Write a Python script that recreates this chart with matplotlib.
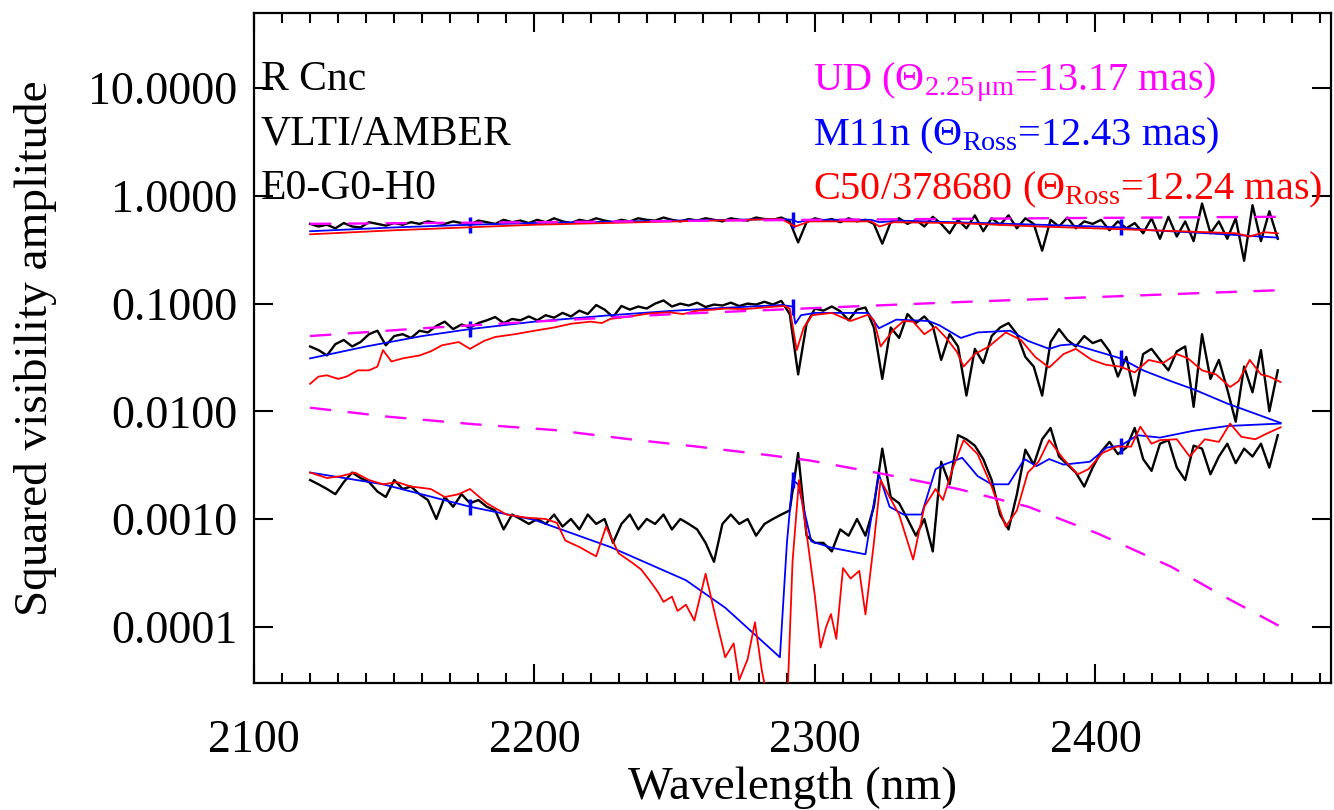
import numpy as np
import matplotlib
matplotlib.use("Agg")
import matplotlib.pyplot as plt
from matplotlib.ticker import MultipleLocator, FixedLocator, FuncFormatter, NullLocator

plt.rcParams["font.family"] = ["Liberation Serif", "DejaVu Serif"]
plt.rcParams["mathtext.fontset"] = "custom"
plt.rcParams["mathtext.rm"] = "Liberation Serif"
plt.rcParams["mathtext.it"] = "Liberation Serif:italic"

# ---------------- observed squared visibilities (3 nm grid) ----------------
obs_wl = np.arange(2120, 2466, 3)

obs_v2_short = [
    0.55, 0.52, 0.54, 0.50, 0.56, 0.52, 0.51, 0.57, 0.55, 0.53,
    0.56, 0.54, 0.57, 0.55, 0.58, 0.56, 0.55, 0.58, 0.56, 0.54,
    0.59, 0.57, 0.55, 0.60, 0.57, 0.59, 0.56, 0.60, 0.57, 0.62,
    0.58, 0.56, 0.60, 0.58, 0.62, 0.59, 0.57, 0.60, 0.58, 0.62,
    0.60, 0.59, 0.63, 0.60, 0.58, 0.61, 0.59, 0.62, 0.60, 0.58,
    0.62, 0.60, 0.59, 0.63, 0.61, 0.60, 0.63, 0.58, 0.37, 0.57,
    0.62, 0.59, 0.61, 0.57, 0.62, 0.58, 0.60, 0.55, 0.36, 0.57,
    0.62, 0.55, 0.60, 0.52, 0.64, 0.55, 0.45, 0.60, 0.50, 0.66,
    0.47, 0.62, 0.54, 0.66, 0.50, 0.62, 0.55, 0.31, 0.60, 0.52,
    0.63, 0.50, 0.58, 0.55, 0.60, 0.48, 0.58, 0.50, 0.56, 0.45,
    0.62, 0.40, 0.64, 0.42, 0.58, 0.38, 0.85, 0.45, 0.58, 0.40,
    0.62, 0.25, 0.82, 0.38, 0.72, 0.40,
]

obs_v2_mid = [
    0.040, 0.037, 0.033, 0.042, 0.046, 0.040, 0.044, 0.052, 0.056, 0.041,
    0.050, 0.052, 0.048, 0.056, 0.054, 0.062, 0.068, 0.058, 0.064, 0.060,
    0.066, 0.070, 0.075, 0.066, 0.072, 0.070, 0.076, 0.070, 0.078, 0.074,
    0.082, 0.076, 0.086, 0.080, 0.097, 0.088, 0.075, 0.095, 0.088, 0.094,
    0.090, 0.100, 0.107, 0.094, 0.100, 0.096, 0.102, 0.093, 0.098, 0.096,
    0.102, 0.095, 0.100, 0.098, 0.104, 0.098, 0.106, 0.080, 0.022, 0.065,
    0.090, 0.086, 0.094, 0.085, 0.070, 0.088, 0.092, 0.060, 0.020, 0.060,
    0.048, 0.080, 0.066, 0.076, 0.062, 0.030, 0.052, 0.040, 0.014, 0.038,
    0.028, 0.050, 0.060, 0.066, 0.052, 0.032, 0.026, 0.014, 0.044, 0.058,
    0.046, 0.040, 0.050, 0.043, 0.046, 0.036, 0.021, 0.032, 0.014, 0.034,
    0.038, 0.030, 0.024, 0.036, 0.040, 0.011, 0.052, 0.020, 0.030, 0.016,
    0.008, 0.026, 0.015, 0.037, 0.010, 0.024,
]

obs_v2_long = [
    0.0023, 0.0021, 0.0019, 0.0017, 0.0022, 0.0027, 0.0024, 0.0022, 0.0018, 0.0016,
    0.0023, 0.0019, 0.0020, 0.0017, 0.0015, 0.0010, 0.0016, 0.0013, 0.0017, 0.0014,
    0.0015, 0.0013, 0.0012, 0.0008, 0.0011, 0.0010, 0.0009, 0.0010, 0.0009, 0.0011,
    0.00085, 0.0010, 0.0008, 0.0011, 0.0009, 0.0010, 0.0006, 0.0009, 0.0011, 0.0008,
    0.0010, 0.0009, 0.0011, 0.0008, 0.0010, 0.0009, 0.0008, 0.0006, 0.0004, 0.0009,
    0.0011, 0.0009, 0.0010, 0.0007, 0.0009, 0.0010, 0.0011, 0.0012, 0.0041, 0.0007,
    0.0006, 0.0006, 0.0005, 0.0008, 0.0007, 0.0010, 0.0007, 0.0013, 0.0045, 0.0016,
    0.0014, 0.0010, 0.0007, 0.0010, 0.0005, 0.0034, 0.0021, 0.0060, 0.0055, 0.0048,
    0.0036, 0.0023, 0.0011, 0.0008, 0.0017, 0.0044, 0.0032, 0.0055, 0.0070, 0.0038,
    0.0032, 0.0027, 0.0020, 0.0030, 0.0042, 0.0052, 0.0040, 0.0046, 0.0070, 0.0036,
    0.0028, 0.0050, 0.0054, 0.0030, 0.0023, 0.0048, 0.0045, 0.0026, 0.0038, 0.0050,
    0.0033, 0.0045, 0.0038, 0.0050, 0.0030, 0.0060,
]

# ---------------- uniform disk model ----------------
ud_wl_short = [2120, 2200, 2300, 2400, 2465]
ud_v2_short = [0.55, 0.57, 0.60, 0.625, 0.64]

ud_wl_mid = [2120, 2160, 2200, 2250, 2300, 2350, 2400, 2440, 2465]
ud_v2_mid = [0.050, 0.059, 0.068, 0.080, 0.091, 0.103, 0.115, 0.126, 0.133]

ud_wl_long = [2120, 2148, 2178, 2207, 2234, 2258, 2284, 2298, 2325, 2351,
              2376, 2401, 2427, 2446, 2466]
ud_v2_long = [0.0108, 0.0089, 0.0076, 0.0067, 0.0055, 0.0047, 0.0039, 0.0035,
              0.0026, 0.0019, 0.0013, 0.00073, 0.00036, 0.00019, 0.0001]

# ---------------- M11n model ----------------
m11_wl_short = [2120, 2150, 2177, 2200, 2250, 2288, 2292, 2294, 2298, 2320,
                2323, 2330, 2350, 2380, 2400, 2409, 2420, 2440, 2465]
m11_v2_short = [0.47, 0.51, 0.54, 0.56, 0.59, 0.61, 0.60, 0.57, 0.60, 0.60,
                0.57, 0.59, 0.57, 0.54, 0.52, 0.51, 0.48, 0.45, 0.41]

m11_wl_mid = [2120, 2140, 2160, 2177, 2200, 2227, 2250, 2270, 2288, 2292,
              2293, 2295, 2300, 2319, 2322.8, 2329, 2340.5, 2344.3, 2352, 2358,
              2369.6, 2376, 2383.5, 2387.5, 2392, 2399, 2409, 2417, 2427, 2435,
              2447, 2457, 2466]
m11_v2_mid = [0.031, 0.040, 0.050, 0.058, 0.068, 0.078, 0.086, 0.092, 0.097, 0.094,
              0.065, 0.078, 0.082, 0.082, 0.059, 0.071, 0.069, 0.063, 0.048, 0.054,
              0.056, 0.045, 0.038, 0.041, 0.042, 0.037, 0.031, 0.024, 0.019, 0.016,
              0.0118, 0.0095, 0.0078]

m11_wl_long = [2120, 2146, 2177, 2200, 2227, 2254, 2268, 2281, 2287.5, 2290,
               2292, 2294, 2298.7, 2306, 2318, 2320, 2322.8, 2326.6, 2331.6, 2338,
               2343, 2346, 2352.5, 2358, 2363, 2369, 2374.7, 2379, 2383.5, 2388.6,
               2398, 2404, 2409, 2415, 2423, 2435, 2447, 2466]
m11_v2_long = [0.0027, 0.0021, 0.0013, 0.00098, 0.00055, 0.00027, 0.00015, 0.000074, 0.000052, 0.0006,
               0.0023, 0.0021, 0.00062, 0.00054, 0.00047, 0.0010, 0.0026, 0.0013, 0.0011, 0.0011,
               0.0029, 0.0032, 0.0037, 0.0025, 0.0021, 0.0021, 0.0036, 0.0031, 0.0036, 0.0032,
               0.0034, 0.0046, 0.0048, 0.0060, 0.0057, 0.0066, 0.0073, 0.0077]

# wavelengths where the M11n curves carry a short vertical tick
m11_tick_wl = [2177, 2292, 2409]

# ---------------- C50/378680 model ----------------
c50_wl_short = [2120, 2150, 2200, 2250, 2288, 2293, 2298, 2320, 2323, 2328,
                2350, 2380, 2400, 2430, 2450, 2455, 2460, 2465]
c50_v2_short = [0.44, 0.48, 0.54, 0.58, 0.61, 0.52, 0.58, 0.58, 0.52, 0.57,
                0.56, 0.52, 0.50, 0.47, 0.45, 0.42, 0.46, 0.45]

c50_wl_mid = [2120, 2123, 2126, 2130, 2133, 2137, 2141, 2144, 2146, 2149,
              2153, 2159, 2163, 2167, 2173, 2177, 2182, 2186, 2193, 2200,
              2207, 2213, 2220, 2224, 2227, 2234, 2241, 2248, 2253, 2258,
              2264, 2268, 2275, 2284, 2289, 2291, 2293.5, 2296, 2299, 2306,
              2312.7, 2319, 2321, 2323.4, 2328, 2331.6, 2335, 2339, 2343, 2346.8,
              2350.6, 2353, 2357, 2362, 2368, 2373.4, 2378.5, 2383.5, 2388.6, 2393,
              2398.7, 2403.8, 2408.8, 2414, 2419, 2424, 2429, 2433, 2438, 2443,
              2448, 2451, 2455, 2459, 2462, 2466]
c50_v2_mid = [0.018, 0.021, 0.0216, 0.020, 0.021, 0.024, 0.024, 0.026, 0.037, 0.029,
              0.031, 0.033, 0.036, 0.041, 0.044, 0.038, 0.045, 0.049, 0.052, 0.056,
              0.060, 0.065, 0.068, 0.066, 0.072, 0.076, 0.081, 0.083, 0.080, 0.086,
              0.088, 0.090, 0.089, 0.093, 0.095, 0.090, 0.037, 0.060, 0.078, 0.082,
              0.069, 0.079, 0.070, 0.040, 0.057, 0.069, 0.068, 0.052, 0.061, 0.048,
              0.0356, 0.026, 0.034, 0.040, 0.054, 0.046, 0.032, 0.0255, 0.034, 0.038,
              0.030, 0.027, 0.026, 0.023, 0.030, 0.028, 0.034, 0.031, 0.024, 0.022,
              0.0168, 0.019, 0.030, 0.022, 0.021, 0.0187]

c50_wl_long = [2120, 2126, 2131, 2136, 2141, 2146, 2151, 2156, 2163, 2168,
               2173, 2177, 2183, 2190, 2197, 2204, 2208, 2211, 2216, 2220,
               2222, 2225.5, 2230, 2235, 2238, 2241, 2244, 2246, 2249, 2251,
               2254, 2257, 2261, 2265, 2268, 2271, 2273, 2276, 2278.6, 2281,
               2284, 2287, 2290, 2292, 2294.3, 2297.5, 2300, 2302, 2304, 2305.7,
               2307.6, 2310, 2312.7, 2315.8, 2318, 2321, 2323.4, 2326.6, 2330, 2335,
               2339, 2343, 2345.6, 2349, 2353, 2358, 2363, 2368, 2372, 2375.9,
               2379.7, 2383.5, 2388.6, 2393.7, 2397.5, 2402.5, 2407.6, 2412.7, 2416, 2420,
               2423, 2429, 2433.6, 2439, 2444, 2448, 2452, 2457, 2461, 2466]
c50_v2_long = [0.0027, 0.0024, 0.0025, 0.0027, 0.0023, 0.0021, 0.0022, 0.0020, 0.0019, 0.0016,
               0.0017, 0.0019, 0.0014, 0.0011, 0.00103, 0.00100, 0.00092, 0.00063, 0.00055, 0.00048,
               0.00045, 0.00085, 0.00048, 0.00039, 0.00034, 0.00027, 0.00021, 0.00017, 0.00019, 0.00014,
               0.00016, 0.000114, 0.00031, 0.00011, 0.000052, 0.00007, 0.000032, 0.00005, 0.00011, 0.00004,
               0.000016, 0.00002, 0.000016, 0.0004, 0.0023, 0.00059, 0.00019, 0.000064, 0.0001, 0.000131,
               0.000077, 0.00035, 0.00028, 0.00033, 0.00013, 0.0006, 0.0023, 0.0016, 0.0011, 0.00042,
               0.0013, 0.0019, 0.0015, 0.0029, 0.0054, 0.0040, 0.0020, 0.00085, 0.0012, 0.0027,
               0.0034, 0.0054, 0.0036, 0.0026, 0.0029, 0.0041, 0.0047, 0.0047, 0.0072, 0.0050,
               0.0054, 0.0055, 0.0038, 0.0055, 0.0052, 0.0077, 0.0058, 0.0055, 0.0062, 0.0071]

MAGENTA = "#ff00ff"
BLUE = "#0000ff"
RED = "#ff0000"

fig = plt.figure(figsize=(13.34, 8.10), dpi=100)
ax = fig.add_axes([0.1904, 0.1568, 0.8074, 0.8272])
ax.set_yscale("log")

for v2 in (obs_v2_short, obs_v2_mid, obs_v2_long):
    ax.plot(obs_wl, v2, color="black", lw=1.7, zorder=2)

for wl, v2 in ((m11_wl_short, m11_v2_short), (m11_wl_mid, m11_v2_mid),
               (m11_wl_long, m11_v2_long)):
    idx = [wl.index(w) for w in m11_tick_wl]
    ax.plot(wl, v2, color=BLUE, lw=1.3, zorder=3,
            marker="|", markevery=idx, markersize=11, markeredgewidth=2.5)

for wl, v2 in ((c50_wl_short, c50_v2_short), (c50_wl_mid, c50_v2_mid),
               (c50_wl_long, c50_v2_long)):
    ax.plot(wl, v2, color=RED, lw=1.3, zorder=4)

for wl, v2 in ((ud_wl_short, ud_v2_short), (ud_wl_mid, ud_v2_mid),
               (ud_wl_long, ud_v2_long)):
    ax.plot(wl, v2, color=MAGENTA, lw=1.7, dashes=(9, 7), zorder=5)

ax.set_xlim(2100, 2484)
ax.set_ylim(3e-5, 50)

ax.xaxis.set_major_locator(MultipleLocator(100))
ax.xaxis.set_minor_locator(MultipleLocator(10))
ax.yaxis.set_major_locator(FixedLocator([1e-4, 1e-3, 1e-2, 1e-1, 1, 10]))
ax.yaxis.set_minor_locator(NullLocator())
ax.yaxis.set_major_formatter(FuncFormatter(lambda v, p: f"{v:.4f}"))

ax.tick_params(which="both", direction="in", top=True, right=True, width=1.5,
               labelsize=33)
ax.tick_params(which="major", length=14)
ax.tick_params(which="minor", length=7)
ax.tick_params(axis="x", pad=26)
ax.tick_params(axis="y", pad=12)
for s in ax.spines.values():
    s.set_linewidth(1.6)

ax.set_xlabel("Wavelength (nm)", fontsize=34)
ax.xaxis.set_label_coords(0.5, -0.125)
ax.set_ylabel("Squared visibility amplitude", fontsize=34)
ax.yaxis.label.set_va("center")
ax.yaxis.set_label_coords(-0.203, 0.5)

left_notes = ["R Cnc", "VLTI/AMBER", "E0-G0-H0"]
legend_texts = [r"UD ($\Theta_{\mathrm{2.25\,μm}}$=13.17 mas)",
                r"M11n ($\Theta_{\mathrm{Ross}}$=12.43 mas)",
                r"C50/378680 ($\Theta_{\mathrm{Ross}}$=12.24 mas)"]
legend_colors = [MAGENTA, BLUE, RED]
baselines_px = [90, 145, 199]
for note, lt, col, yb in zip(left_notes, legend_texts, legend_colors, baselines_px):
    yf = (683 - yb) / 670
    ax.text(0.0065, yf, note, transform=ax.transAxes, fontsize=30,
            va="baseline", ha="left", color="black")
    ax.text(0.5186, yf, lt, transform=ax.transAxes, fontsize=29,
            va="baseline", ha="left", color=col)

fig.savefig("out.png", dpi=100)
